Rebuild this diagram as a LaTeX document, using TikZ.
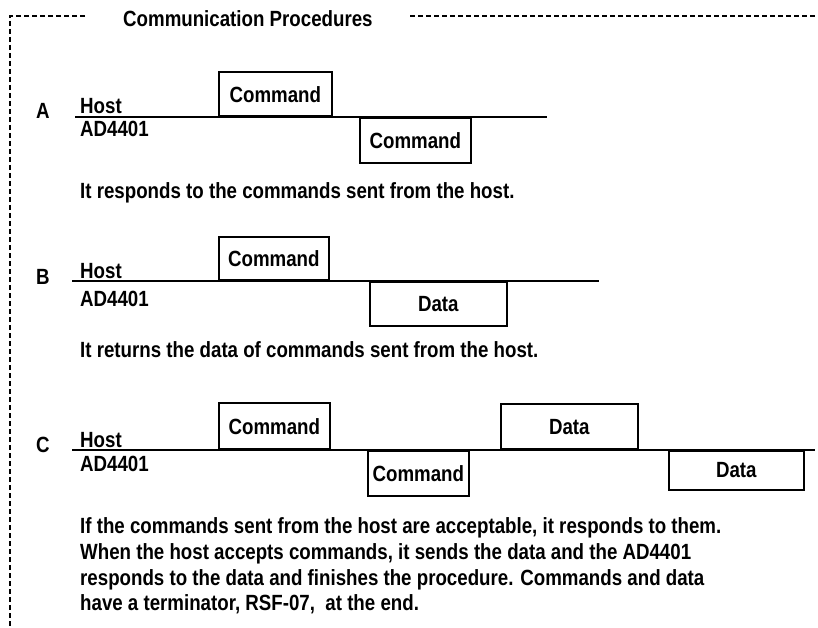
\documentclass[tikz,border=0pt]{standalone}
\usepackage{fontspec}
\setmainfont{Liberation Sans}
\newfontfamily\scanfont{Liberation Sans Bold}[FakeStretch=0.85]
\begin{document}
\begin{tikzpicture}[x=1pt,y=-1pt,
  txt/.style={inner sep=0pt,anchor=base west,font=\scanfont\fontsize{22}{26}\selectfont},
  sigbox/.style={draw,line width=1.6pt,inner sep=0pt,anchor=south west,font=\scanfont\fontsize{22}{26}\selectfont},
  lowbox/.style={draw,line width=1.6pt,inner sep=0pt,anchor=north west,font=\scanfont\fontsize{22}{26}\selectfont},
  sigline/.style={line width=1.8pt},
  frame/.style={line width=1.3pt,dash pattern=on 5pt off 3pt}]
\useasboundingbox (0,0) rectangle (818,628);
% frame
\coordinate (f1) at (85,16);
\coordinate (f2) at (10,16);
\coordinate (f3) at (10,628);
\coordinate (f4) at (410,16);
\coordinate (f5) at (818,16);
\draw[frame] (f1) -- (f2) -- (f3);
\draw[frame] (f4) -- (f5);
\node[txt] (title) at (123,27) {Communication Procedures};
% A
\node[txt] (lA) at (36,119) {A};
\coordinate (a0) at (75,117);
\coordinate (a1) at (547,117);
\node[sigbox,minimum width=113pt,minimum height=44pt] (aC1) at (218,117) {Command};
\node[lowbox,minimum width=111pt,minimum height=45pt] (aC2) at (359,117) {Command};
\draw[sigline] (a0) -- (a1);
\node[txt] (aH) at (80,114) {Host};
\node[txt] (aD) at (80,137) {AD4401};
\node[txt] (aT) at (80,199) {It responds to the commands sent from the host.};
% B
\node[txt] (lB) at (36,284) {B};
\coordinate (b0) at (72,281);
\coordinate (b1) at (599,281);
\node[sigbox,minimum width=110pt,minimum height=43pt] (bC1) at (218,281) {Command};
\node[lowbox,minimum width=137pt,minimum height=44pt] (bD1) at (369,281) {Data};
\draw[sigline] (b0) -- (b1);
\node[txt] (bH) at (80,278) {Host};
\node[txt] (bD) at (80,306) {AD4401};
\node[txt] (bT) at (80,357) {It returns the data of commands sent from the host.};
% C
\node[txt] (lC) at (36,452) {C};
\coordinate (c0) at (72,450);
\coordinate (c1) at (815,450);
\node[sigbox,minimum width=111pt,minimum height=46pt] (cC1) at (218,450) {Command};
\node[lowbox,minimum width=101pt,minimum height=45pt] (cC2) at (367,450) {Command};
\node[sigbox,minimum width=137pt,minimum height=45pt] (cD1) at (500,450) {Data};
\node[lowbox,minimum width=135pt,minimum height=39pt] (cD2) at (668,450) {Data};
\draw[sigline] (c0) -- (c1);
\node[txt] (cH) at (80,447) {Host};
\node[txt] (cD) at (80,471) {AD4401};
\node[txt] (cT1) at (80,533) {If the commands sent from the host are acceptable, it responds to them.};
\node[txt] (cT2) at (80,559) {When the host accepts commands, it sends the data and the AD4401};
\node[txt] (cT3) at (80,585) {responds to the data and finishes the procedure. Commands and data};
\node[txt] (cT4) at (80,610) {have a terminator, RSF-07,\ \ at the end.};
\end{tikzpicture}
\end{document}
